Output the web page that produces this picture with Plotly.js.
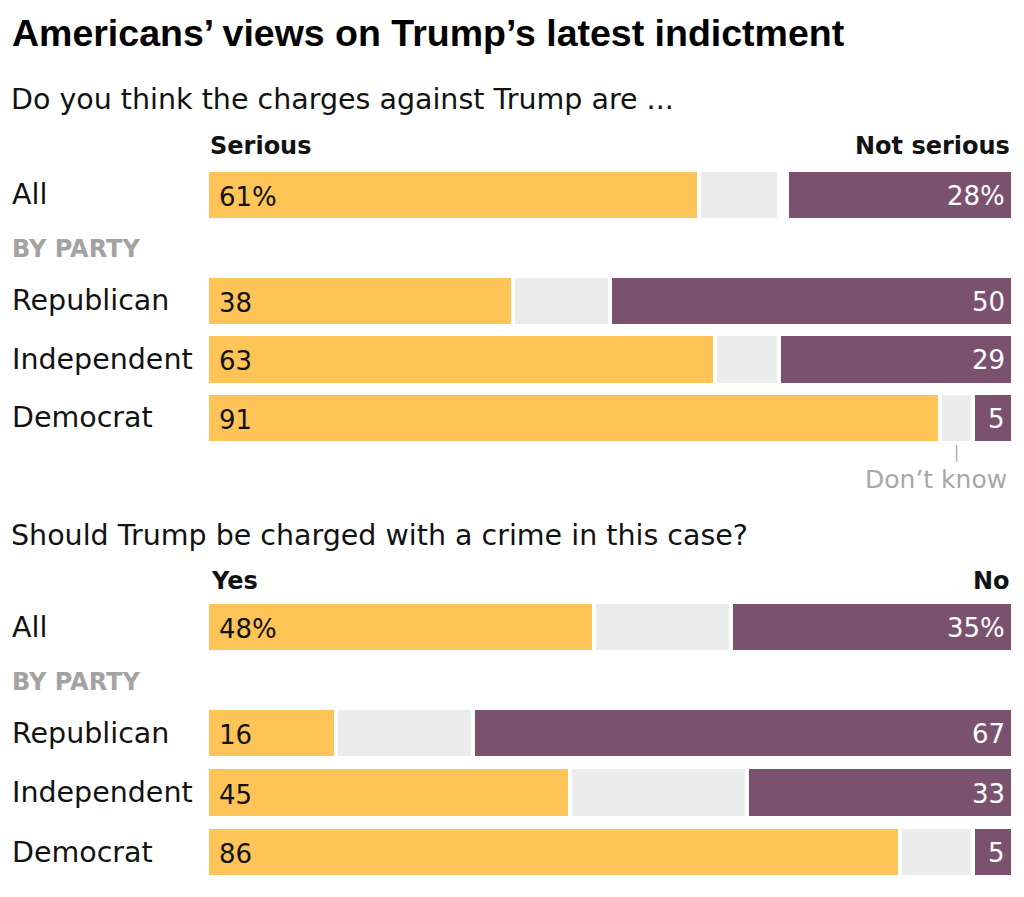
<!DOCTYPE html>
<html>
<head>
<meta charset="utf-8">
<script src="https://cdn.plot.ly/plotly-3.0.1.min.js"></script>
<style>
  html, body { margin: 0; padding: 0; background: #fff; }
  #chart { width: 1024px; height: 897px; }
</style>
</head>
<body>
<div id="chart"></div>
<script>
const groups = ["All", "Republican", "Independent", "Democrat"];
const parties = groups.slice(1);

// Do you think the charges against Trump are ...
const seriousPct = [61, 38, 63, 91];
const seriousDontKnow = [10, 12, 8, 4];
const notSeriousPct = [28, 50, 29, 5];

// Should Trump be charged with a crime in this case?
const chargedYes = [48, 16, 45, 86];
const chargedDontKnow = [17, 17, 22, 9];
const chargedNo = [35, 67, 33, 5];

const W = 1024;
const H = 897;
const YELLOW = "#fec457";
const GREY = "#ececec";
const PURPLE = "#7a516f";
const INK = "#121212";
const BODY_FONT = "DejaVu Sans, sans-serif";

const px = (x) => x / W;
const py = (y) => 1 - y / H;
const band = (top, bottom) => [py(bottom), py(top)];

const traces = [];
const annotations = [];
const BAR_WIDTH = 0.855;

function addPanel(yes, dk, no, allAxis, partyAxis) {
  const rest = yes.map((v, i) => Math.max(0, 100 - v - dk[i] - no[i]));
  const segments = [
    { vals: yes, color: YELLOW },
    { vals: dk, color: GREY },
    { vals: rest, color: "#ffffff" },
    { vals: no, color: PURPLE },
  ];
  for (const seg of segments) {
    traces.push({
      type: "bar", orientation: "h",
      x: [seg.vals[0]], y: [groups[0]],
      yaxis: allAxis, width: BAR_WIDTH,
      marker: { color: seg.color, line: { color: "#ffffff", width: 4 } },
      hoverinfo: "skip",
    });
    traces.push({
      type: "bar", orientation: "h",
      x: seg.vals.slice(1), y: parties,
      yaxis: partyAxis, width: BAR_WIDTH,
      marker: { color: seg.color, line: { color: "#ffffff", width: 4 } },
      hoverinfo: "skip",
    });
  }

  groups.forEach((g, i) => {
    const yref = i === 0 ? allAxis : partyAxis;
    const suffix = i === 0 ? "%" : "";
    // row label on the left
    annotations.push({
      text: g, xref: "paper", x: px(10), xanchor: "left",
      yref, y: g, yanchor: "middle", showarrow: false,
      font: { family: BODY_FONT, size: 28.5, color: INK },
    });
    annotations.push({
      text: yes[i] + suffix, xref: "x", x: 0, xanchor: "left", xshift: 10,
      yref, y: g, yanchor: "middle", yshift: -2, showarrow: false,
      font: { family: BODY_FONT, size: 26, color: INK },
    });
    annotations.push({
      text: no[i] + suffix, xref: "x", x: 100, xanchor: "right", xshift: -6,
      yref, y: g, yanchor: "middle", yshift: -1, showarrow: false,
      font: { family: BODY_FONT, size: 26, color: "#ffffff" },
    });
  });
}

addPanel(seriousPct, seriousDontKnow, notSeriousPct, "y", "y2");
addPanel(chargedYes, chargedDontKnow, chargedNo, "y3", "y4");

function textAt(text, x, y, opts = {}) {
  annotations.push({
    text, xref: "paper", yref: "paper", x: px(x), y: py(y),
    xanchor: opts.anchor || "left", yanchor: "middle", showarrow: false,
    font: {
      family: opts.family || BODY_FONT,
      size: opts.size || 28,
      color: opts.color || INK,
      weight: opts.weight || 400,
    },
  });
}

textAt("Americans’ views on Trump’s latest indictment", 10, 33,
  { family: "Liberation Sans, Arial, sans-serif", size: 37.5, weight: 700, color: "#000" });
textAt("Do you think the charges against Trump are ...", 9, 99, { size: 28.5 });
textAt("Serious", 208, 146, { size: 24, weight: 700 });
textAt("Not serious", 1012, 146, { size: 24, weight: 700, anchor: "right" });
textAt("BY PARTY", 10, 249, { size: 24, weight: 700, color: "#a3a3a3" });
textAt("Don’t know", 1009, 479, { size: 25, color: "#a8a8a8", anchor: "right" });

textAt("Should Trump be charged with a crime in this case?", 9, 535, { size: 28.5 });
textAt("Yes", 209, 581, { size: 24, weight: 700 });
textAt("No", 1012, 581, { size: 24, weight: 700, anchor: "right" });
textAt("BY PARTY", 10, 682, { size: 24, weight: 700, color: "#a3a3a3" });

// leader line from the Democrat "don't know" segment
const dkCenter = seriousPct[3] + seriousDontKnow[3] / 2;
const shapes = [{
  type: "line", xref: "x", yref: "paper",
  x0: dkCenter, x1: dkCenter, y0: py(445), y1: py(462),
  line: { color: "#b0b0b0", width: 1.5 },
}];

const hiddenY = (domain) => ({
  domain, type: "category", autorange: "reversed",
  showticklabels: false, showgrid: false, zeroline: false, showline: false,
  fixedrange: true,
});

const layout = {
  width: W, height: H,
  margin: { l: 0, r: 0, t: 0, b: 0 },
  paper_bgcolor: "#ffffff",
  plot_bgcolor: "#ffffff",
  barmode: "stack",
  showlegend: false,
  hovermode: false,
  xaxis: {
    domain: [px(207), px(1013)], range: [0, 100],
    showticklabels: false, showgrid: false, zeroline: false, showline: false,
    fixedrange: true,
  },
  yaxis: hiddenY(band(165.75, 224.25)),
  yaxis2: { ...hiddenY(band(271.75, 447.25)), anchor: "x" },
  yaxis3: { ...hiddenY(band(597.75, 656.25)), anchor: "x" },
  yaxis4: { ...hiddenY(band(703.25, 881.75)), anchor: "x" },
  annotations,
  shapes,
};

Plotly.newPlot("chart", traces, layout, { staticPlot: true, displayModeBar: false });
</script>
</body>
</html>
